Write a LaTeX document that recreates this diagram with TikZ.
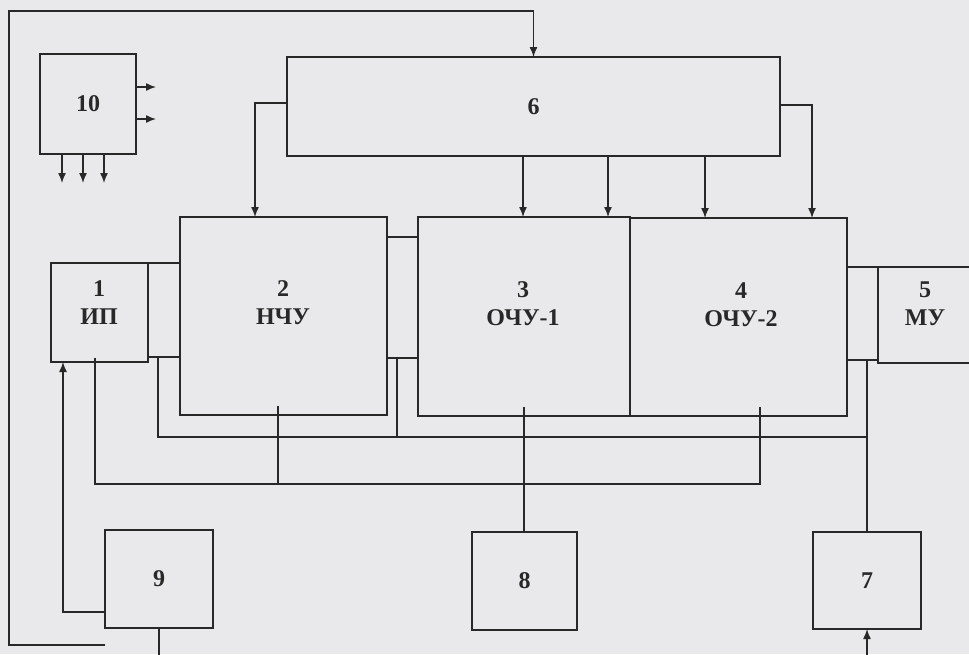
\documentclass[tikz,border=0pt]{standalone}
\usepackage{fontspec}
\setmainfont{Liberation Serif}
\usetikzlibrary{arrows.meta}
\definecolor{paper}{RGB}{233,233,235}
\definecolor{ink}{RGB}{40,40,40}
\begin{document}
\begin{tikzpicture}[x=1pt,y=-1pt,
  box/.style={draw=ink,line width=1.8pt,inner sep=0pt,outer sep=0pt,
    font=\bfseries\fontsize{24}{28}\selectfont,text=ink},
  lbl/.style={font=\bfseries\fontsize{24}{28}\selectfont,text=ink,align=center,inner sep=0pt},
  conn/.style={draw=ink,line width=1.4pt},
  arr/.style={conn,-{Latex[length=10pt,width=8pt]}}]
\useasboundingbox (0,0) rectangle (969,654);
\fill[paper] (0,0) rectangle (969,654);
\clip (0,0) rectangle (969,654);

% boxes
\node[box,minimum width=96pt,minimum height=100pt] (b10) at (88,104) {10};
\node[box,minimum width=493pt,minimum height=99pt] (b6) at (533.5,106.5) {6};
\node[box,minimum width=97pt,minimum height=99pt] (b1) at (99.5,312.5) {};
\node[box,minimum width=207pt,minimum height=198pt] (b2) at (283.5,316) {};
\node[box,minimum width=212pt,minimum height=199pt] (b3) at (524,316.5) {};
\node[box,minimum width=217pt,minimum height=198pt] (b4) at (738.5,317) {};
\node[box,minimum width=94pt,minimum height=96pt] (b5) at (925,315) {};
\node[box,minimum width=108pt,minimum height=98pt] (b9) at (159,579) {9};
\node[box,minimum width=105pt,minimum height=98pt] (b8) at (524.5,581) {8};
\node[box,minimum width=108pt,minimum height=97pt] (b7) at (867,580.5) {7};

% labels
\node[lbl,anchor=base] (l1) at (99,324) {1\\ИП};
\node[lbl,anchor=base] (l2) at (283,324) {2\\НЧУ};
\node[lbl,anchor=base] (l3) at (523,325) {3\\ОЧУ-1};
\node[lbl,anchor=base] (l4) at (741,326) {4\\ОЧУ-2};
\node[lbl,anchor=base] (l5) at (925,325) {5\\МУ};

% outer loop into block 6
\coordinate (loopend) at (105,645);
\draw[arr] (loopend) -- (9,645) -- (9,11) -| (b6.north);

% outputs of block 10
\draw[arr] ([yshift=17pt]b10.east) -- ++(20,0);
\draw[arr] ([yshift=-15pt]b10.east) -- ++(20,0);
\draw[arr] ([xshift=-26pt]b10.south) -- ++(0,29);
\draw[arr] ([xshift=-5pt]b10.south) -- ++(0,29);
\draw[arr] ([xshift=16pt]b10.south) -- ++(0,29);

% block 6 outputs
\coordinate (t2) at ([xshift=75pt]b2.north west);
\coordinate (t3a) at ([xshift=105pt]b3.north west);
\coordinate (t3b) at ([xshift=190pt]b3.north west);
\coordinate (t4a) at ([xshift=75pt]b4.north west);
\coordinate (t4b) at ([xshift=182pt]b4.north west);
\draw[arr] ([yshift=3.5pt]b6.west) -| (t2);
\draw[arr] (t3a |- b6.south) -- (t3a);
\draw[arr] (t3b |- b6.south) -- (t3b);
\draw[arr] (t4a |- b6.south) -- (t4a);
\draw[arr] ([yshift=1.5pt]b6.east) -| (t4b);

% links between neighbouring blocks
\coordinate (c12) at ([yshift=5pt]b1.south east);
\coordinate (c23u) at ([yshift=-20pt]b2.north east);
\coordinate (c23l) at ([yshift=57pt]b2.south east);
\coordinate (c45l) at ([yshift=3pt]b5.south west);
\draw[conn] (b1.north east) -- (b1.north east -| b2.west);
\draw[conn] (c12) -- (c12 -| b2.west);
\draw[conn] (c23u) -- (c23u -| b3.west);
\draw[conn] (c23l) -- (c23l -| b3.west);
\draw[conn] (b5.north west -| b4.east) -- (b5.north west);
\draw[conn] (c45l -| b4.east) -- (c45l);

% bus A
\coordinate (ja1) at (158,437);
\coordinate (j23) at (397,437);
\draw[conn] (c12 -| ja1) -- (ja1) -- (ja1 -| b7.north);
\draw[conn] (c23l -| j23) -- (j23);
\draw[conn] (c45l -| b7.north) -- (b7.north);

% bus B
\coordinate (s1) at (95,358);
\coordinate (s2) at (278,406);
\coordinate (s3) at (524,407);
\coordinate (s4) at (760,407);
\coordinate (jb1) at (95,484);
\coordinate (jb4) at (760,484);
\draw[conn] (s1) -- (jb1) -- (jb4) -- (s4);
\draw[conn] (s2) -- (s2 |- jb1);
\draw[conn] (s3) -- (s3 |- b8.north);

% block 9
\coordinate (c9) at ([yshift=-33pt]b9.west);
\coordinate (a91) at ([xshift=12pt]b1.south west);
\draw[arr] (c9) -| (a91);
\coordinate (e9) at (159,660);
\draw[conn] (b9.south) -- (e9);

% block 7 input
\coordinate (e7) at (867,660);
\draw[arr] (e7) -- (b7.south);
\end{tikzpicture}
\end{document}
